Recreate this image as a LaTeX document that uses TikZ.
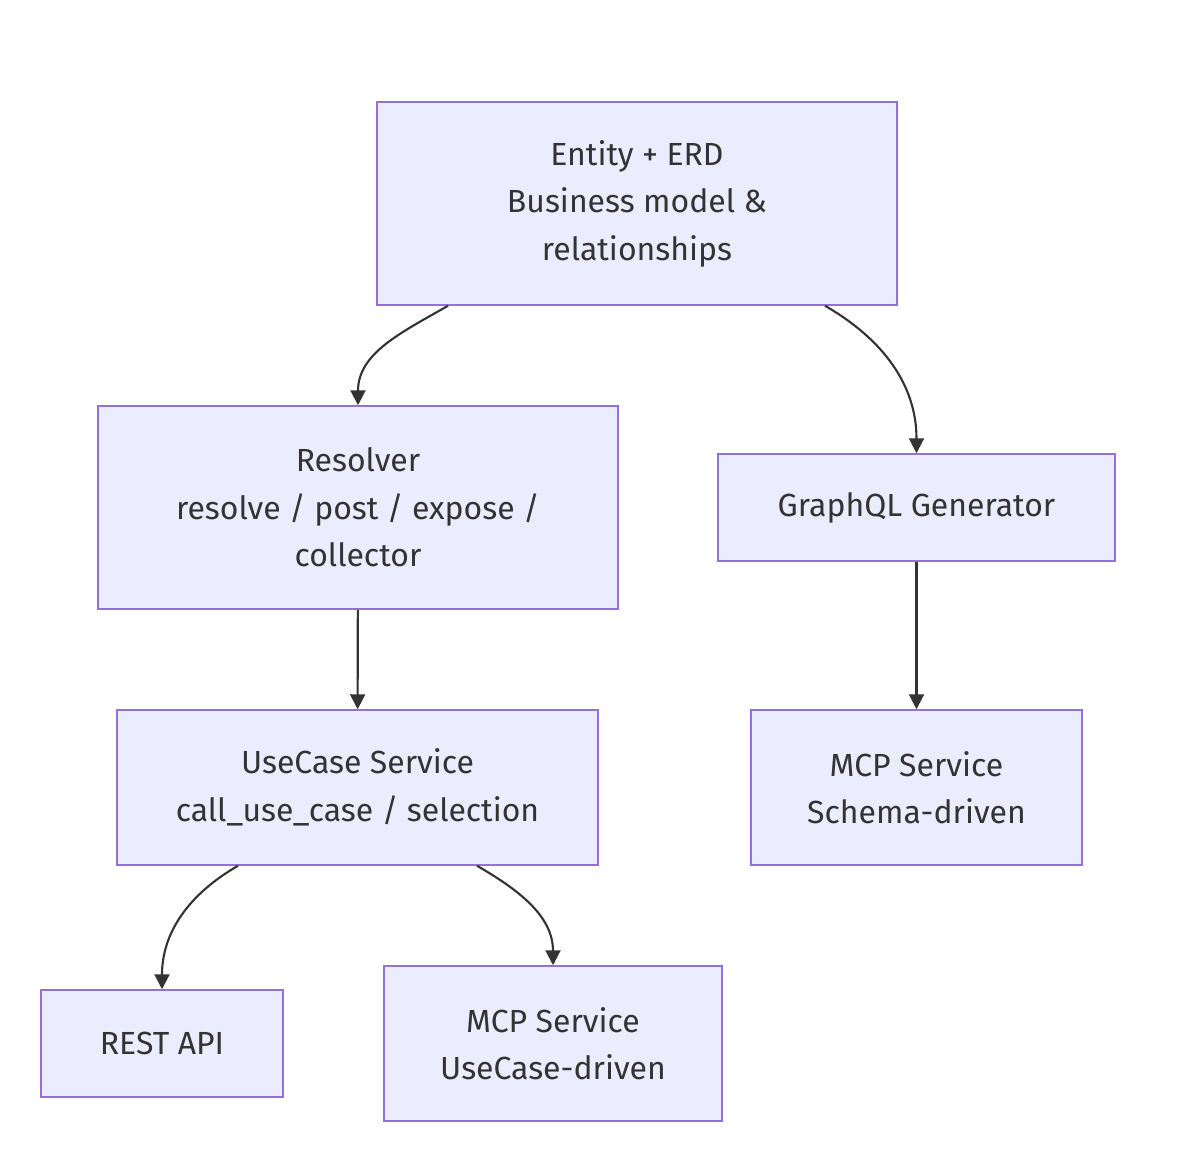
\documentclass[tikz,border=0pt]{standalone}
\usepackage{fontspec}
\setmainfont{Fira Sans}
\usetikzlibrary{arrows.meta,positioning,calc}
\definecolor{boxfill}{HTML}{ECECFF}
\definecolor{boxline}{HTML}{9370DB}
\definecolor{ink}{HTML}{333333}

\begin{document}
\begin{tikzpicture}[
  >={Triangle[length=0.3cm,width=0.3cm]},
  every node/.style={font=\fontsize{18.2}{27}\selectfont, text=ink},
  box/.style={draw=boxline, line width=0.85pt, fill=boxfill, align=center, inner sep=0pt},
  flow/.style={->, draw=ink, line width=1.2pt}
]
\useasboundingbox (0,0) rectangle (23.6,-23.52);
\node[box, minimum width=10.4cm, minimum height=4.06cm] (entity) at (12.74,-4.07) {Entity + ERD\\Business model \&\\relationships};
\node[box, minimum width=10.4cm, minimum height=4.06cm] (resolver) at (7.16,-10.15) {Resolver\\resolve / post / expose /\\collector};
\node[box, minimum width=7.94cm, minimum height=2.14cm] (graphql) at (18.33,-10.15) {GraphQL Generator};
\node[box, minimum width=9.62cm, minimum height=3.1cm] (usecase) at (7.15,-15.75) {UseCase Service\\call\_use\_case / selection};
\node[box, minimum width=6.62cm, minimum height=3.1cm] (mcpschema) at (18.33,-15.75) {MCP Service\\Schema-driven};
\node[box, minimum width=4.84cm, minimum height=2.14cm] (rest) at (3.24,-20.87) {REST API};
\node[box, minimum width=6.76cm, minimum height=3.1cm] (mcpusecase) at (11.06,-20.87) {MCP Service\\UseCase-driven};
\draw[flow] ([xshift=-3.78cm]entity.south) to[out=-150,in=90] (resolver.north);
\draw[flow] ([xshift=3.76cm]entity.south) to[out=-30,in=90] (graphql.north);
\draw[flow] (resolver) -- (usecase);
\draw[flow] (graphql) -- (mcpschema);
\draw[flow] ([xshift=-2.39cm]usecase.south) to[out=-150,in=90] (rest.north);
\draw[flow] ([xshift=2.39cm]usecase.south) to[out=-30,in=90] (mcpusecase.north);
\end{tikzpicture}
\end{document}
